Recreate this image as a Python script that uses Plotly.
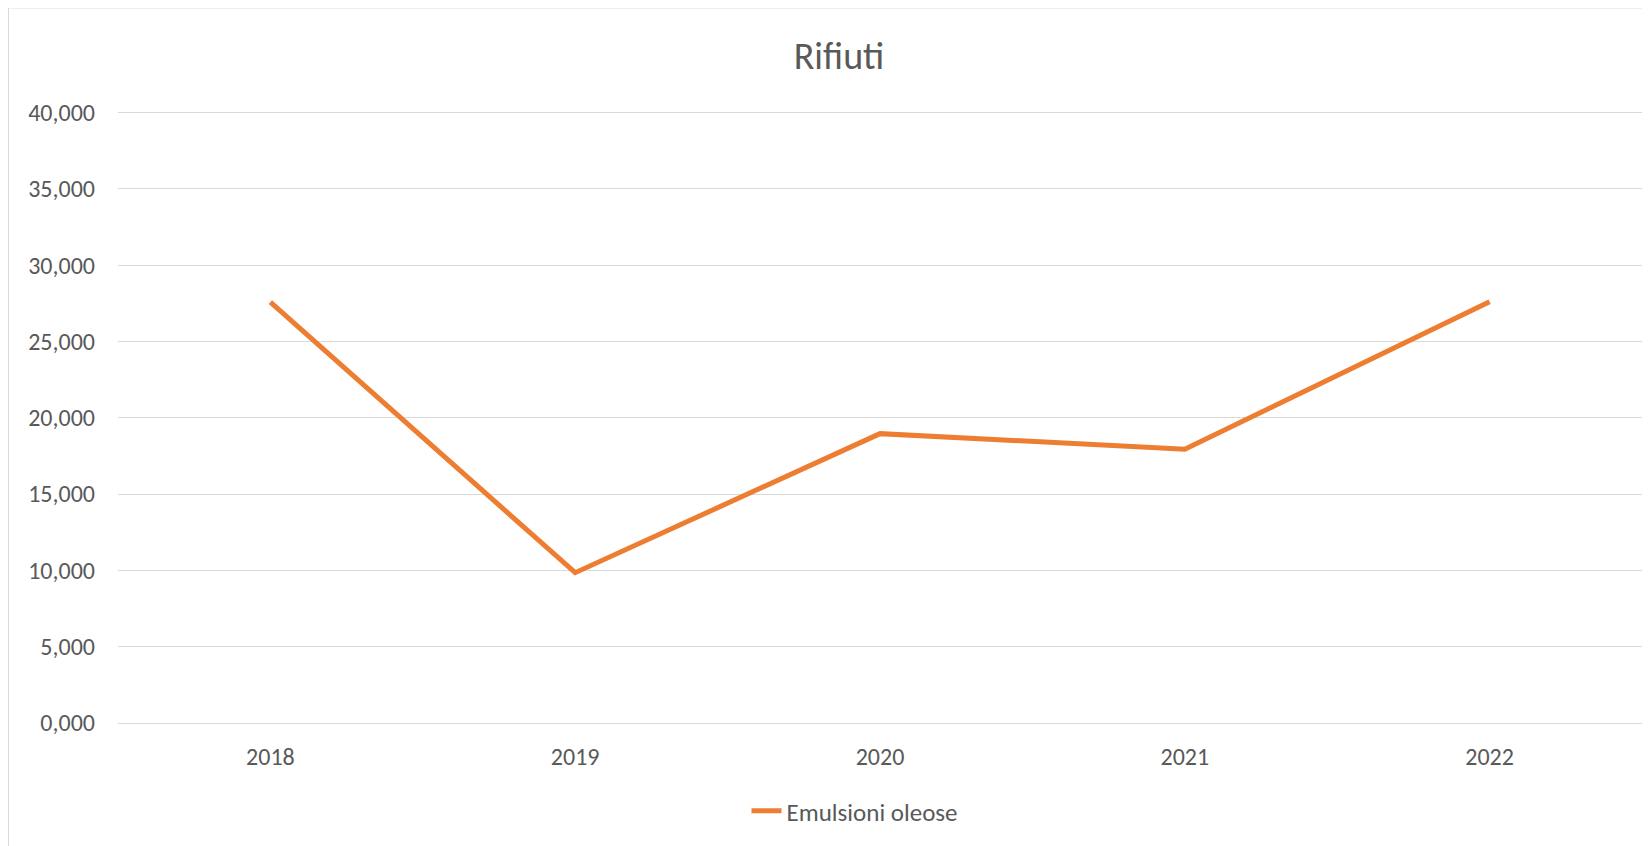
import plotly.graph_objects as go

years = ["2018", "2019", "2020", "2021", "2022"]
emulsioni_oleose = [27.57, 9.85, 18.96, 17.94, 27.60]
series_name = "Emulsioni oleose"
title_text = "Rifiuti"

# the page adds an 8px body margin, so the figure is laid out 8px smaller
OFF = 8
W, H = 1650 - OFF, 846 - OFF
Y_TOP = 40.1
top40 = 113 - OFF
bot0 = 723 - OFF
ph = (bot0 - top40) * Y_TOP / 40.0
T = bot0 - ph
L, R = 118 - OFF, 8
B = H - bot0
pw = W - L - R

font_family = "Calibri, Carlito, 'Liberation Sans', Arial, sans-serif"
grey_text = "#595959"

fig = go.Figure()
fig.add_trace(go.Scatter(
    x=years, y=emulsioni_oleose, mode="lines", name=series_name,
    line=dict(color="#ED7D31", width=5),
))

fig.update_layout(
    width=W, height=H,
    margin=dict(l=L, r=R, t=T, b=B, autoexpand=False),
    paper_bgcolor="white", plot_bgcolor="white",
    separators=",.",
    font=dict(family=font_family, color=grey_text, size=24),
    title=dict(text=title_text, x=(839 - OFF) / W, xref="container", xanchor="center",
               y=1 - (56 - OFF) / H, yref="container", yanchor="middle",
               font=dict(size=38, color=grey_text, family=font_family)),
    showlegend=True,
    legend=dict(orientation="h", x=(855 - OFF - L) / pw, xanchor="center",
                y=(bot0 - (811 - OFF)) / ph, yanchor="middle",
                font=dict(size=25, color=grey_text)),
    xaxis=dict(type="category", range=[-0.5, 4.5], showgrid=False,
               showline=False, zeroline=False, ticks="",
               tickfont=dict(size=24, color=grey_text), ticklabelstandoff=17),
    yaxis=dict(range=[0, Y_TOP], tickvals=[0, 5, 10, 15, 20, 25, 30, 35, 40],
               tickformat=".3f",
               showgrid=True, gridcolor="#D9D9D9", gridwidth=1,
               zeroline=True, zerolinecolor="#D9D9D9", zerolinewidth=1,
               showline=False, ticks="", ticklabelstandoff=22,
               tickfont=dict(size=24, color=grey_text)),
)

# chart-area border (partly cropped, as in the reference)
fig.add_shape(type="rect", xref="paper", yref="paper",
              x0=(0.5 - L) / pw, x1=(W + 20 - L) / pw,
              y0=(bot0 - (H + 20)) / ph, y1=(bot0 - 0.5) / ph,
              line=dict(color="#D9D9D9", width=1), fillcolor="rgba(0,0,0,0)",
              layer="below")

fig.write_html("out.html")
